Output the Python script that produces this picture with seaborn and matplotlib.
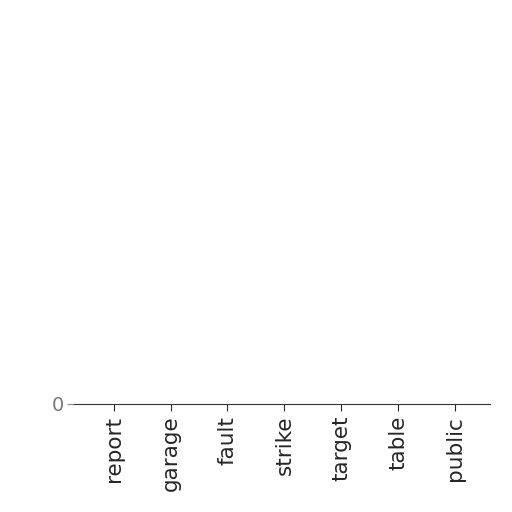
import matplotlib
matplotlib.use('Agg')
import matplotlib.pyplot as plt
import seaborn as sns
import pandas as pd

categories = ['report', 'garage', 'fault', 'strike', 'target', 'table', 'public']
values = [0, 0, 0, 0, 0, 0, 0]

df = pd.DataFrame({'word': categories, 'count': values})

sns.set_style('ticks')
plt.rcParams['font.family'] = ['DejaVu Sans']

fig = plt.figure(figsize=(5.12, 5.12), dpi=100)
ax = fig.add_axes([0.144, 0.211, 0.813, 0.77])
sns.barplot(x='word', y='count', data=df, color='#4c72b0', ax=ax)

ax.set_xlim(-0.7, 6.61)
ax.set_ylim(0, 1)
ax.set_yticks([0])
ax.set_xlabel('')
ax.set_ylabel('')
ax.tick_params(axis='x', labelrotation=90, labelsize=15.5, length=5)
ax.tick_params(axis='y', labelsize=14, labelcolor='#777777', length=5, pad=2, color='#888888')
for side in ['top', 'right', 'left']:
    ax.spines[side].set_visible(False)
ax.spines['bottom'].set_color('#333333')

fig.savefig('out.png', dpi=100)
